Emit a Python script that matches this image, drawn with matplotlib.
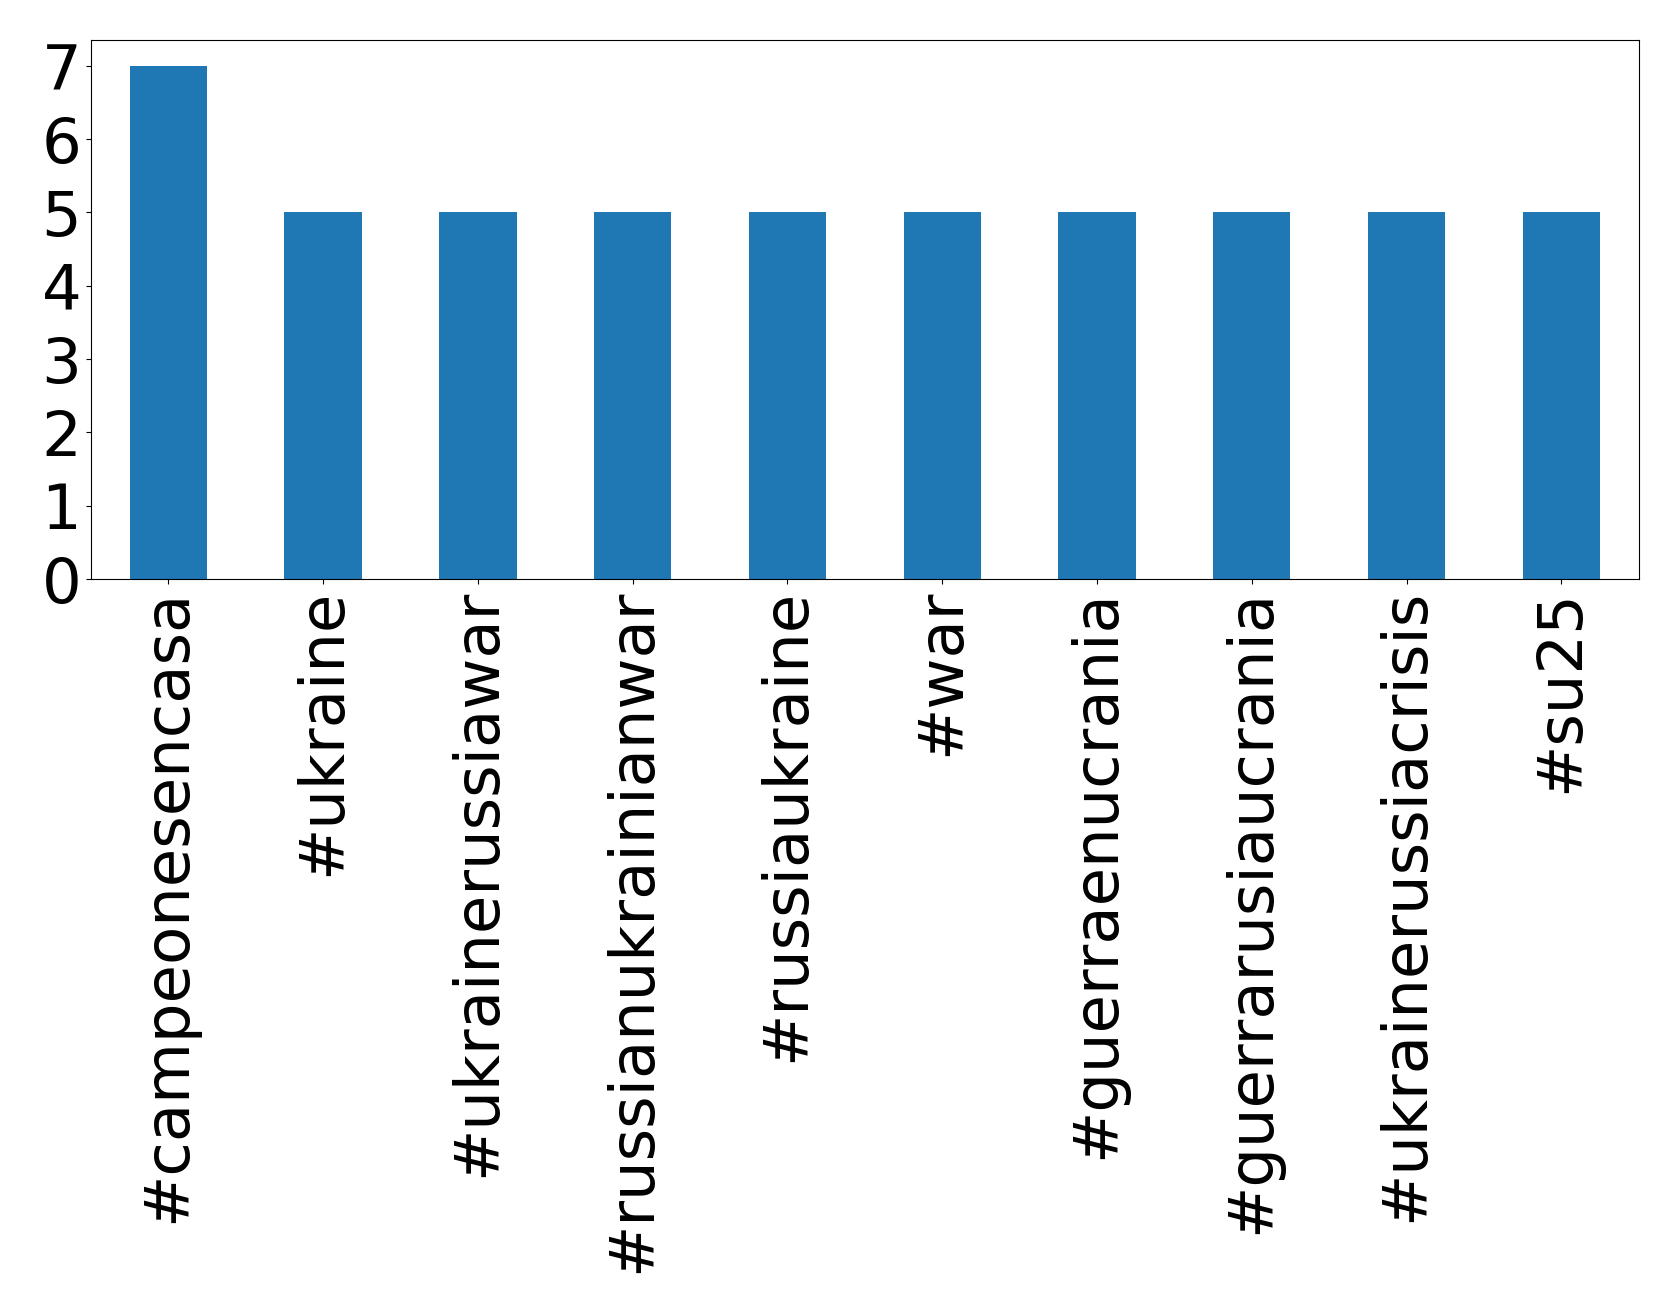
import pandas as pd
import matplotlib
matplotlib.use("Agg")
import matplotlib.pyplot as plt

# Données : hashtags les plus fréquents
hashtags = ["#campeonesencasa", "#ukraine", "#ukrainerussiawar", "#russianukrainianwar",
            "#russiaukraine", "#war", "#guerraenucrania", "#guerrarusiaucrania",
            "#ukrainerussiacrisis", "#su25"]
counts = [7, 5, 5, 5, 5, 5, 5, 5, 5, 5]

s = pd.Series(counts, index=hashtags)

fig = plt.figure(figsize=(16.79, 13.13), dpi=100)
ax = fig.add_axes([0.0542, 0.559, 0.976 - 0.0542, 0.9695 - 0.559])
s.plot(kind="bar", ax=ax, color="#1f77b4")
ax.set_yticks(range(0, 8))
ax.tick_params(axis="both", labelsize=45)

fig.savefig("out.png", dpi=100)
